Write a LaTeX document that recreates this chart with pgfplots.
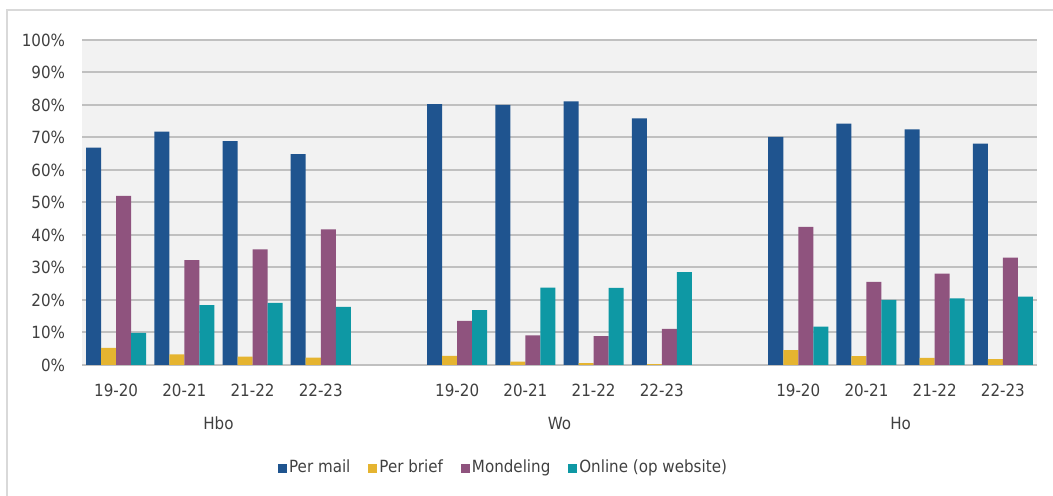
\documentclass[border=0pt]{standalone}
\usepackage{fontspec}
\setmainfont{DejaVu Sans}[FakeStretch=0.9]
\usepackage{pgfplots}
\pgfplotsset{compat=1.18}
\usepackage{pgfplotstable}

\definecolor{cmail}{HTML}{1F548F}
\definecolor{cbrief}{HTML}{E5B430}
\definecolor{cmond}{HTML}{8F537E}
\definecolor{conline}{HTML}{0E98A4}
\definecolor{txt}{HTML}{404040}
\definecolor{gridc}{HTML}{C0C0C0}
\definecolor{bgc}{HTML}{F2F2F2}
\definecolor{framec}{HTML}{D9D9D9}

% x: 0-3 Hbo, 5-8 Wo, 10-13 Ho
\pgfplotstableread{
x  mail brief mond online
0  66.9 5.3 52.0  9.9
1  71.8 3.3 32.3 18.4
2  68.9 2.6 35.6 19.1
3  64.9 2.3 41.7 17.9
5  80.3 2.8 13.6 16.9
6  80.0 1.0  9.1 23.8
7  81.1 0.6  8.9 23.7
8  75.9 0.3 11.1 28.6
10 70.2 4.6 42.5 11.8
11 74.3 2.7 25.6 20.0
12 72.5 2.2 28.1 20.5
13 68.1 1.8 33.0 21.0
}\data

\newcommand{\lbl}{\fontsize{8.4pt}{10pt}\selectfont}

\begin{document}
\begin{tikzpicture}
\useasboundingbox (0,0) rectangle (526.5pt,248pt);
\draw[framec, line width=1pt] (3.5pt,-10pt) -- (3.5pt,243pt) -- (540pt,243pt);
\begin{axis}[
    at={(41pt,65.5pt)}, anchor=south west,
    width=477.5pt, height=162.5pt, scale only axis,
    ybar=0pt, bar width=0.22,
    xmin=-0.5, xmax=13.5, ymin=0, ymax=100,
    xtick={0,1,2,3,5,6,7,8,10,11,12,13},
    xticklabels={19-20,20-21,21-22,22-23,19-20,20-21,21-22,22-23,19-20,20-21,21-22,22-23},
    ytick={0,10,...,100},
    yticklabels={0\%,10\%,20\%,30\%,40\%,50\%,60\%,70\%,80\%,90\%,100\%},
    ymajorgrids,
    major grid style={draw=gridc, line width=1pt},
    axis line style={draw=none},
    major tick length=0pt,
    axis background/.style={fill=bgc},
    tick label style={font=\lbl, text=txt},
    xticklabel style={anchor=center, yshift=-12.5pt},
    yticklabel style={anchor=east, inner sep=0pt, xshift=-8.25pt},
    clip=false,
    legend columns=4,
    legend style={at={(0.4414,-0.317)}, anchor=center, draw=none, fill=none,
      font=\lbl, text=txt, nodes={inner sep=1pt},
      /tikz/every even column/.append style={column sep=8pt}},
    legend image code/.code={\fill[#1] (0pt,-2.25pt) rectangle (4.5pt,2.25pt);},
  ]
  \addplot[fill=cmail, draw=none] table[x=x,y=mail]{\data};
  \addplot[fill=cbrief, draw=none] table[x=x,y=brief]{\data};
  \addplot[fill=cmond, draw=none] table[x=x,y=mond]{\data};
  \addplot[fill=conline, draw=none] table[x=x,y=online]{\data};
  \legend{Per mail, Per brief, Mondeling, Online (op website)}
  \node[font=\lbl, text=txt, anchor=center] at (axis cs:1.5,0) [yshift=-29pt] {Hbo};
  \node[font=\lbl, text=txt, anchor=center] at (axis cs:6.5,0) [yshift=-29pt] {Wo};
  \node[font=\lbl, text=txt, anchor=center] at (axis cs:11.5,0) [yshift=-29pt] {Ho};
\end{axis}
\end{tikzpicture}
\end{document}
